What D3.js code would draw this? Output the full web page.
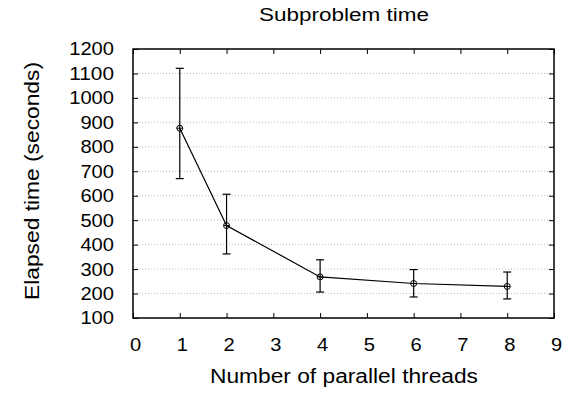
<!DOCTYPE html>
<html><head><meta charset="utf-8">
<script src="https://cdn.jsdelivr.net/npm/d3@7"></script>
<style>body{margin:0;background:#fff}svg{display:block}text{font-family:"Liberation Sans",Arial,sans-serif;fill:#000}</style>
</head><body><svg id="c" width="575" height="393"></svg>
<script>
const threads = [1, 2, 4, 6, 8];
const meanTime = [876, 478, 268, 241, 229];
const errLow = [670, 362, 206, 186, 178];
const errHigh = [1121, 606, 338, 298, 288];
const xTicks = [0,1,2,3,4,5,6,7,8,9];
const yTicks = [100,200,300,400,500,600,700,800,900,1000,1100,1200];

const svg = d3.select("#c");
const L=133, R=554, T=49, B=318;
const x = d3.scaleLinear().domain([0,9]).range([L,R]);
const y = d3.scaleLinear().domain([100,1200]).range([B,T]);

// grid
svg.append("g").selectAll("line").data(yTicks.slice(1,-1)).join("line")
  .attr("x1",L).attr("x2",R).attr("y1",d=>y(d)).attr("y2",d=>y(d))
  .attr("stroke","#bbb").attr("stroke-width",1).attr("stroke-dasharray","1,2");

// axes (ticks inward)
const fs = 18.5, digitW = 11.2;
const gb = svg.append("g").attr("transform",`translate(0,${B})`)
  .call(d3.axisBottom(x).tickValues(xTicks).tickSize(-5).tickPadding(20).tickFormat(d3.format("d")));
const gl = svg.append("g").attr("transform",`translate(${L},0)`)
  .call(d3.axisLeft(y).tickValues(yTicks).tickSize(-5).tickPadding(19).tickFormat(d3.format("d")));
const gt = svg.append("g").attr("transform",`translate(0,${T})`)
  .call(d3.axisTop(x).tickValues(xTicks).tickSize(-5).tickFormat(""));
const gr = svg.append("g").attr("transform",`translate(${R},0)`)
  .call(d3.axisRight(y).tickValues(yTicks).tickSize(-5).tickFormat(""));
[gb,gl,gt,gr].forEach(g=>{
  g.select(".domain").remove();
  g.selectAll("line").attr("stroke","#000").attr("stroke-width",1);
  g.selectAll("text").attr("font-size",fs).attr("font-family","Liberation Sans, Arial, sans-serif")
    .attr("fill","#000")
    .attr("textLength",function(){return this.textContent.length*digitW;})
    .attr("lengthAdjust","spacingAndGlyphs");
});
gb.selectAll("text").attr("dx",2);
svg.append("rect").attr("x",L).attr("y",T).attr("width",R-L).attr("height",B-T)
  .attr("fill","none").attr("stroke","#000").attr("stroke-width",1.5);

const data = threads.map((t,i)=>({t, m:meanTime[i], lo:errLow[i], hi:errHigh[i]}));
// error bars
const eb = svg.append("g").attr("stroke","#000").attr("stroke-width",1.2);
data.forEach(d=>{
  eb.append("line").attr("x1",x(d.t)).attr("x2",x(d.t)).attr("y1",y(d.lo)).attr("y2",y(d.hi));
  eb.append("line").attr("x1",x(d.t)-4).attr("x2",x(d.t)+4).attr("y1",y(d.lo)).attr("y2",y(d.lo));
  eb.append("line").attr("x1",x(d.t)-4).attr("x2",x(d.t)+4).attr("y1",y(d.hi)).attr("y2",y(d.hi));
});
// line
svg.append("path").datum(data).attr("fill","none").attr("stroke","#000").attr("stroke-width",1.2)
  .attr("d",d3.line().x(d=>x(d.t)).y(d=>y(d.m)));
// points
const pts = svg.append("g").attr("stroke","#000").attr("stroke-width",1).attr("fill","none");
data.forEach(d=>{
  pts.append("circle").attr("cx",x(d.t)).attr("cy",y(d.m)).attr("r",3);
  pts.append("line").attr("x1",x(d.t)-3).attr("x2",x(d.t)+3).attr("y1",y(d.m)).attr("y2",y(d.m));
});

// labels
svg.append("text").attr("x",344).attr("y",21).attr("text-anchor","middle").attr("font-size",18)
  .attr("textLength",170).attr("lengthAdjust","spacingAndGlyphs").text("Subproblem time");
svg.append("text").attr("x",344).attr("y",382.5).attr("text-anchor","middle").attr("font-size",20)
  .attr("textLength",268).attr("lengthAdjust","spacingAndGlyphs").text("Number of parallel threads");
svg.append("text").attr("transform","translate(38.5,181) rotate(-90)").attr("text-anchor","middle").attr("font-size",19.5)
  .attr("textLength",238).attr("lengthAdjust","spacingAndGlyphs").text("Elapsed time (seconds)");
</script></body></html>
